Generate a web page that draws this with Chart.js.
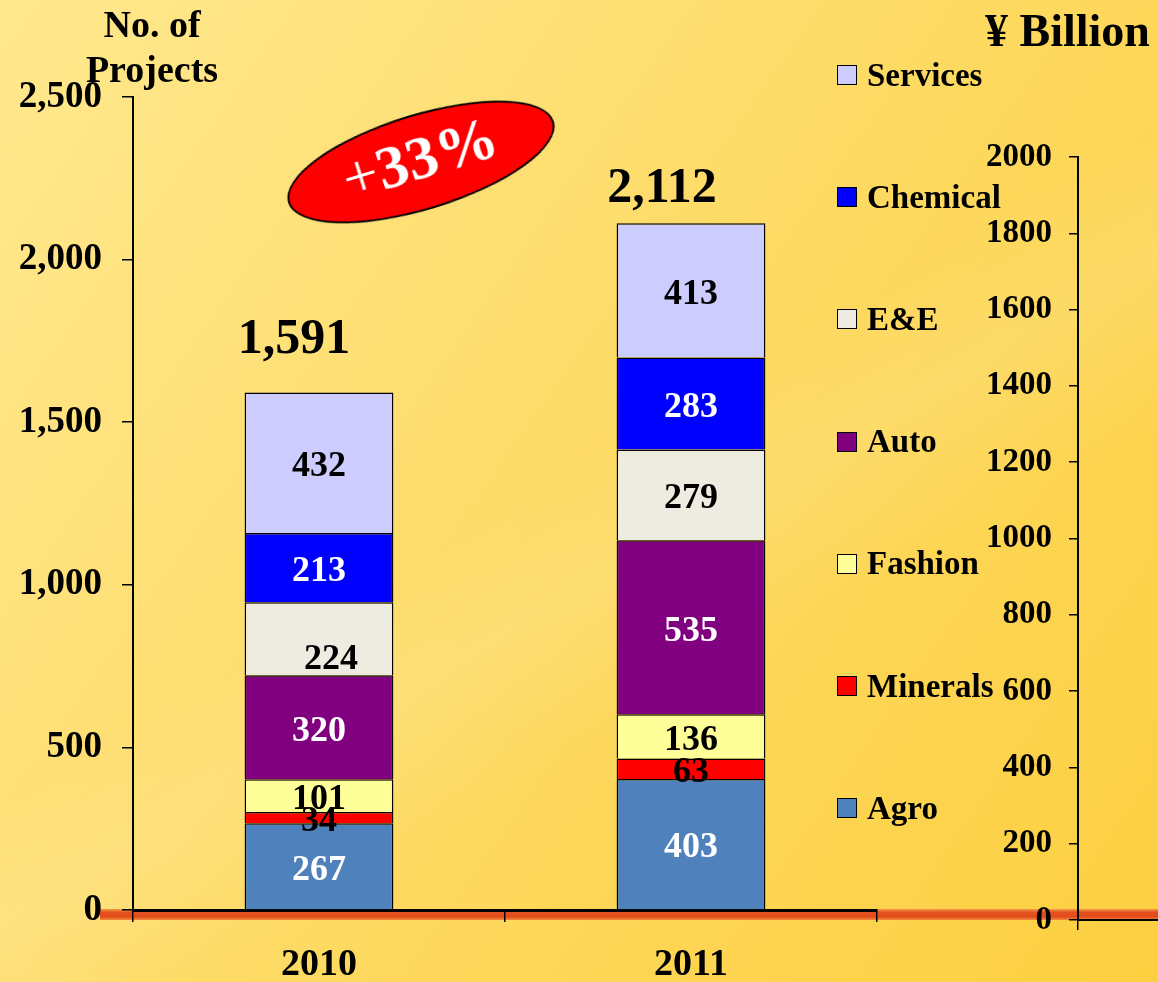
<!DOCTYPE html>
<html>
<head>
<meta charset="utf-8">
<title>Projects by sector 2010-2011</title>
<script src="https://cdn.jsdelivr.net/npm/chart.js@4.4.1/dist/chart.umd.min.js"></script>
<style>
  html, body { margin: 0; padding: 0; }
  body {
    width: 1158px; height: 982px; overflow: hidden; position: relative;
    font-family: "Liberation Serif", "Times New Roman", serif; font-weight: bold; color: #000;
    background:
      linear-gradient(150deg, rgba(255,255,255,0) 48%, rgba(255,255,255,0.10) 56%, rgba(255,255,255,0) 66%),
      linear-gradient(125deg, #ffe88e 0%, #fee077 30%, #fdd85c 60%, #fccf40 100%);
  }
  .band {
    position: absolute; left: 100px; top: 909px; width: 1058px; height: 11px;
    background: linear-gradient(to bottom, #f39a4a 0%, #e6521f 30%, #e24a1a 70%, #f08a3c 100%);
  }
  canvas { position: absolute; left: 0; top: 0; }
  .title { position: absolute; white-space: nowrap; }
  #leftTitle { left: 52px; top: 2px; width: 200px; text-align: center; font-size: 38px; line-height: 45px; }
  #rightTitle { left: 985px; top: 8px; font-size: 46px; line-height: 46px; }
  #badge {
    position: absolute; left: 282px; top: 114px; width: 278px; height: 96px;
    border-radius: 50%; background: #ff0000; border: 2px solid #000; box-sizing: border-box;
    transform: rotate(-17deg);
    display: flex; align-items: center; justify-content: center;
    color: #fff; font-size: 62px;
  }
  #badge span { position: relative; top: -5px; }
  #badge .plus { font-weight: normal; top: 0; }
  .lg { position: absolute; left: 837px; height: 40px; display: flex; align-items: center; font-size: 33px; white-space: nowrap; }
  .lg i { display: inline-block; width: 20px; height: 20px; border: 1.5px solid #000; box-sizing: border-box; margin-right: 10px; }
</style>
</head>
<body>
<div class="band"></div>
<canvas id="main" width="1158" height="982"></canvas>
<canvas id="right" width="1158" height="982"></canvas>
<div class="title" id="leftTitle">No. of<br>Projects</div>
<div class="title" id="rightTitle">¥ Billion</div>
<div id="badge"><span><span class="plus">+</span>33%</span></div>
<div id="legend"></div>

<script>
// ───────────────
// Data: number of projects by sector
const years    = ['2010', '2011'];
const sectors  = ['Agro', 'Minerals', 'Fashion', 'Auto', 'E&E', 'Chemical', 'Services'];
const agro     = [267, 403];
const minerals = [34, 63];
const fashion  = [101, 136];
const auto     = [320, 535];
const ee       = [224, 279];
const chemical = [213, 283];
const services = [432, 413];

// right-hand axis (¥ Billion) range
const rightMin = 0;
const rightMax = 2000;
const rightStep = 200;

// ───────────────
// Styles
const fills      = ['#4f81bd', '#ff0000', '#ffff99', '#800080', '#eeece1', '#0000ff', '#ccccff'];
const textColors = ['#fff', '#000', '#000', '#fff', '#000', '#fff', '#000'];
const serif = '"Liberation Serif", "Times New Roman", serif';

Chart.defaults.font.family = serif;
Chart.defaults.font.weight = 'bold';
Chart.defaults.color = '#000';

const seriesValues = [agro, minerals, fashion, auto, ee, chemical, services];
const totals = years.map((_, i) => seriesValues.reduce((s, arr) => s + arr[i], 0));

// Value labels inside segments + totals above each stack
const stackLabels = {
  id: 'stackLabels',
  afterDatasetsDraw(chart, args, opts) {
    const { ctx } = chart;
    ctx.save();
    ctx.textAlign = 'center';
    ctx.textBaseline = 'middle';
    ctx.font = `bold ${opts.size}px ${serif}`;
    chart.data.datasets.forEach((ds, d) => {
      chart.getDatasetMeta(d).data.forEach((bar, i) => {
        const n = opts.nudges[d + '-' + i] || [0, 0];
        ctx.fillStyle = textColors[d];
        ctx.fillText(String(ds.data[i]), bar.x + n[0], (bar.y + bar.base) / 2 + opts.shift + n[1]);
      });
    });
    // totals
    const top = chart.getDatasetMeta(chart.data.datasets.length - 1).data;
    ctx.font = `bold ${opts.totalSize}px ${serif}`;
    ctx.textBaseline = 'alphabetic';
    ctx.fillStyle = '#000';
    totals.forEach((t, i) => {
      const n = opts.totalNudges[i];
      ctx.fillText(t.toLocaleString('en-US'), top[i].x + n[0], top[i].y + n[1]);
    });
    ctx.restore();
  }
};

const mainChart = new Chart(document.getElementById('main'), {
  type: 'bar',
  data: {
    labels: years,
    datasets: sectors.map((name, k) => ({
      label: name,
      data: seriesValues[k],
      backgroundColor: fills[k],
      borderColor: '#000',
      borderWidth: 1.5,
      categoryPercentage: 0.8,
      barPercentage: 0.5
    }))
  },
  options: {
    responsive: false,
    animation: false,
    layout: { padding: { top: 97, right: 281, bottom: 0, left: 0 } },
    plugins: {
      legend: { display: false },
      tooltip: { enabled: false },
      stackLabels: {
        size: 36, shift: 4, totalSize: 50,
        nudges: { '4-0': [12, 17] },
        totalNudges: [[-25, -40], [-29, -21]]
      }
    },
    scales: {
      x: {
        stacked: true,
        ticks: { font: { size: 38 }, padding: 20 },
        grid: { drawOnChartArea: false, tickLength: 12, color: '#000', lineWidth: 1.5 },
        border: { color: '#000', width: 3 },
        afterFit: s => { s.height = 72; }
      },
      y: {
        stacked: true,
        min: 0,
        max: 2500,
        ticks: { stepSize: 500, font: { size: 37 }, padding: 20 },
        grid: { drawOnChartArea: false, tickLength: 11, color: '#000', lineWidth: 1.5 },
        border: { color: '#000', width: 2 },
        afterFit: s => { s.width = 133; }
      }
    }
  },
  plugins: [stackLabels]
});

// Second, empty chart carrying the ¥ Billion axis
new Chart(document.getElementById('right'), {
  type: 'bar',
  data: { labels: [''], datasets: [] },
  options: {
    responsive: false,
    animation: false,
    layout: { padding: { top: 157, right: 0, bottom: 0, left: 0 } },
    plugins: { legend: { display: false }, tooltip: { enabled: false } },
    scales: {
      x: {
        ticks: { display: false },
        grid: {
          drawOnChartArea: false, tickLength: 10, lineWidth: 1.5,
          color: c => (c.index === 0 ? '#000' : 'rgba(0,0,0,0)')
        },
        border: { color: '#000', width: 2 },
        afterFit: s => { s.height = 62; }
      },
      y: {
        min: rightMin,
        max: rightMax,
        ticks: { stepSize: rightStep, font: { size: 33 }, padding: 17, callback: v => String(v) },
        grid: { drawOnChartArea: false, tickLength: 9, color: '#000', lineWidth: 1.5 },
        border: { color: '#000', width: 2 },
        afterFit: s => { s.width = 1078; }
      }
    }
  }
});

// ───────────────
// Legend (top-down: Services ... Agro), built from the chart's datasets
const legendEl = document.getElementById('legend');
mainChart.data.datasets.slice().reverse().forEach((ds, i) => {
  const row = document.createElement('div');
  row.className = 'lg';
  row.style.top = (75 + i * 122.2 - 20) + 'px';
  const box = document.createElement('i');
  box.style.background = ds.backgroundColor;
  row.appendChild(box);
  row.appendChild(document.createTextNode(ds.label));
  legendEl.appendChild(row);
});
</script>
</body>
</html>
